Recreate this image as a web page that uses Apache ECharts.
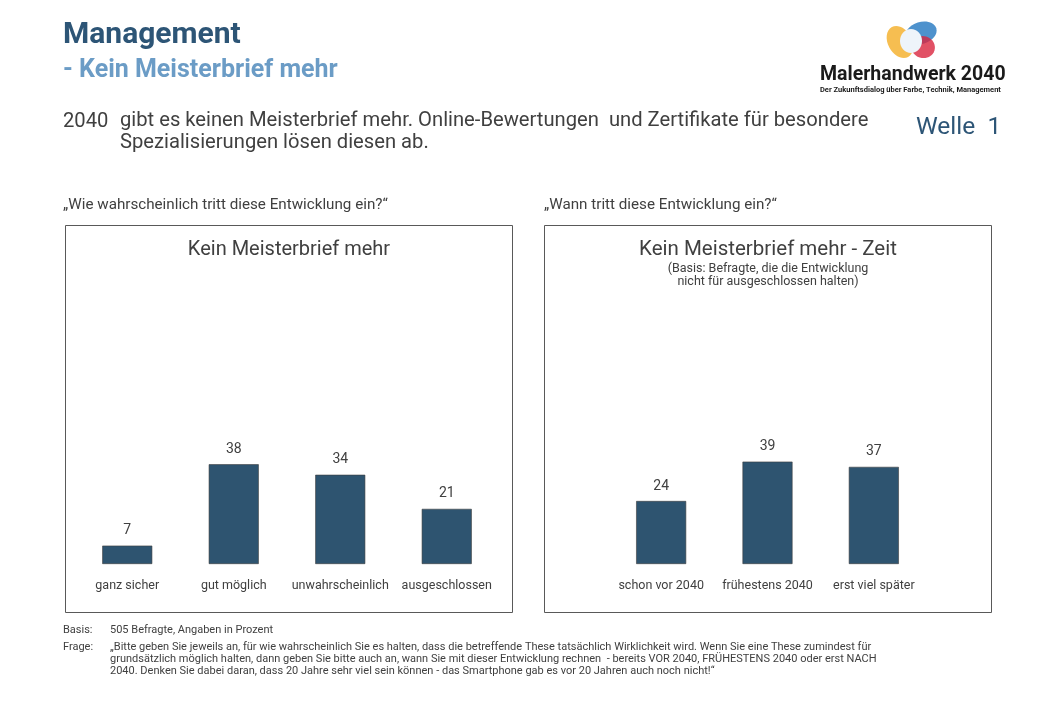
<!DOCTYPE html>
<html lang="de">
<head>
<meta charset="UTF-8">
<title>Kein Meisterbrief mehr</title>
<script src="https://cdn.jsdelivr.net/npm/echarts@6/dist/echarts.min.js"></script>
<style>
  html, body { margin: 0; padding: 0; background: #fff; }
  #chart { width: 1040px; height: 720px; }
</style>
</head>
<body>
<div id="chart"></div>
<script>
// Daten
var catsLikely = ['ganz sicher', 'gut möglich', 'unwahrscheinlich', 'ausgeschlossen'];
var valsLikely = [7, 38, 34, 21];
var catsWhen = ['schon vor 2040', 'frühestens 2040', 'erst viel später'];
var valsWhen = [24, 39, 37];

var FONT = 'Roboto, "Noto Sans", sans-serif';
var TXT = '#404040';
var BAR = '#2e5470';

function txt(x, y, s, size, opt) {
    opt = opt || {};
    return {
        type: 'text', left: x, top: y, silent: true,
        style: {
            text: s, fill: opt.color || TXT, fontSize: size,
            fontFamily: FONT, fontWeight: opt.weight || 'normal',
            textAlign: opt.align || 'left', lineHeight: opt.lh || size * 1.2
        }
    };
}
function ctxt(cx, y, s, size, opt) {
    opt = opt || {};
    return {
        type: 'text', x: cx, y: y, silent: true,
        style: {
            text: s, fill: opt.color || TXT, fontSize: size, fontFamily: FONT,
            textAlign: 'center', textVerticalAlign: 'top', lineHeight: opt.lh || size * 1.2
        }
    };
}
function blob(cx, cy, rx, ry, rot, color, op) {
    return {
        type: 'ellipse', x: cx, y: cy, rotation: rot, silent: true,
        shape: { cx: 0, cy: 0, rx: rx, ry: ry },
        style: { fill: color, opacity: op }
    };
}

var myChart = echarts.init(document.getElementById('chart'));

var axisLab = { color: TXT, fontSize: 12.5, fontFamily: FONT, margin: 15, interval: 0 };
var barLab = { show: true, position: 'top', distance: 8, color: TXT, fontSize: 14, fontFamily: FONT };

var option = {
    backgroundColor: '#fff',
    animation: false,
    grid: [
        { left: 74, width: 426, top: 459, height: 105 },
        { left: 608, width: 319, top: 459, height: 105 }
    ],
    xAxis: [
        { gridIndex: 0, type: 'category', data: catsLikely,
          axisLine: { show: false }, axisTick: { show: false }, axisLabel: axisLab },
        { gridIndex: 1, type: 'category', data: catsWhen,
          axisLine: { show: false }, axisTick: { show: false }, axisLabel: axisLab }
    ],
    yAxis: [
        { gridIndex: 0, type: 'value', min: 0, max: 40, show: false, splitLine: { show: false } },
        { gridIndex: 1, type: 'value', min: 0, max: 40, show: false, splitLine: { show: false } }
    ],
    series: [
        { type: 'bar', xAxisIndex: 0, yAxisIndex: 0, data: valsLikely, barWidth: 50,
          itemStyle: { color: BAR, borderColor: '#3c3c3c', borderWidth: 0.6 }, label: barLab },
        { type: 'bar', xAxisIndex: 1, yAxisIndex: 1, data: valsWhen, barWidth: 50,
          itemStyle: { color: BAR, borderColor: '#3c3c3c', borderWidth: 0.6 }, label: barLab }
    ],
    graphic: [
        // Kopfzeile
        txt(63, 17, 'Management', 30, { weight: 'bold', color: '#2d5576' }),
        txt(63, 56, '- Kein Meisterbrief mehr', 25, { weight: 'bold', color: '#6b9cc6' }),
        txt(63, 110, '2040', 20.2),
        txt(120, 110, 'gibt es keinen Meisterbrief mehr. Online-Bewertungen  und Zertifikate für besondere\nSpezialisierungen lösen diesen ab.', 20.2, { lh: 22 }),
        txt(916, 113, 'Welle  1', 24.5, { color: '#2d5576' }),

        // Logo
        blob(900, 42, 12, 17, 0.5, '#f5b73e', 0.9),
        blob(921, 33, 16, 11, 0.3, '#2f7fc4', 0.85),
        blob(923, 47, 12, 11, -0.3, '#d9263e', 0.8),
        blob(911, 41, 11, 12, 0, '#eef4fa', 1),
        txt(820, 63, 'Malerhandwerk 2040', 19.5, { weight: 'bold', color: '#1a1a1a' }),
        txt(820, 86, 'Der Zukunftsdialog über Farbe, Technik, Management', 7.5, { weight: 'bold', color: '#1a1a1a' }),

        // Fragen
        txt(63, 196, '„Wie wahrscheinlich tritt diese Entwicklung ein?“', 15.2),
        txt(544, 196, '„Wann tritt diese Entwicklung ein?“', 15.2),

        // Rahmen
        { type: 'rect', shape: { x: 65.5, y: 225.5, width: 447, height: 387 }, style: { fill: 'none', stroke: '#595959', lineWidth: 1 }, silent: true },
        { type: 'rect', shape: { x: 544.5, y: 225.5, width: 447, height: 387 }, style: { fill: 'none', stroke: '#595959', lineWidth: 1 }, silent: true },

        ctxt(289, 238, 'Kein Meisterbrief mehr', 20),
        ctxt(768, 238, 'Kein Meisterbrief mehr - Zeit', 20.5),
        ctxt(768, 262, '(Basis: Befragte, die die Entwicklung\nnicht für ausgeschlossen halten)', 12.5, { lh: 13 }),

        // Fußzeile
        txt(63, 624, 'Basis:', 11),
        txt(110, 624, '505 Befragte, Angaben in Prozent', 11),
        txt(63, 641, 'Frage:', 11),
        txt(110, 641, '„Bitte geben Sie jeweils an, für wie wahrscheinlich Sie es halten, dass die betreffende These tatsächlich Wirklichkeit wird. Wenn Sie eine These zumindest für\ngrundsätzlich möglich halten, dann geben Sie bitte auch an, wann Sie mit dieser Entwicklung rechnen  - bereits VOR 2040, FRÜHESTENS 2040 oder erst NACH\n2040. Denken Sie dabei daran, dass 20 Jahre sehr viel sein können - das Smartphone gab es vor 20 Jahren auch noch nicht!“', 11, { lh: 12 })
    ]
};

myChart.setOption(option);
</script>
</body>
</html>
